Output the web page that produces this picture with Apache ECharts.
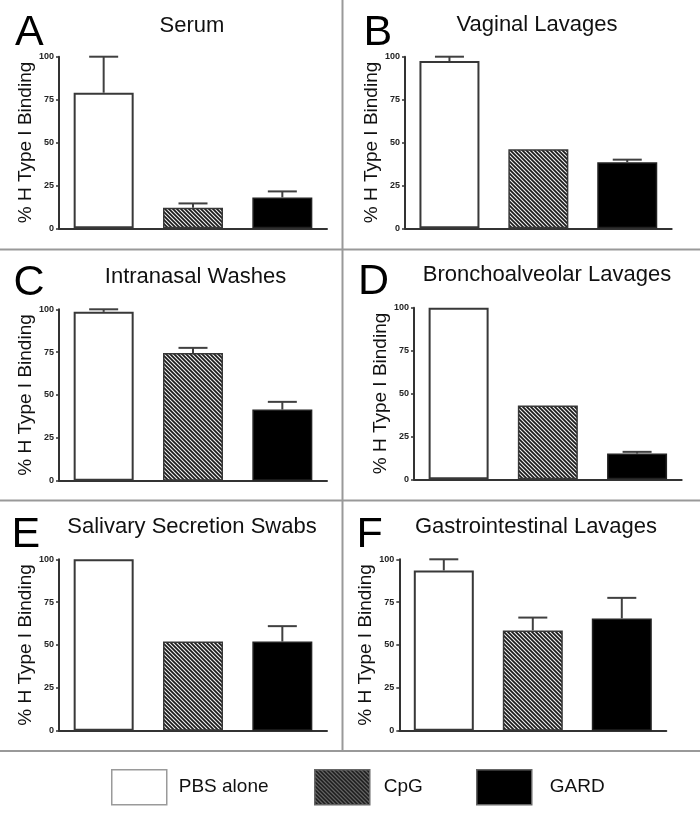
<!DOCTYPE html>
<html><head><meta charset="utf-8">
<script src="https://cdn.jsdelivr.net/npm/echarts@6/dist/echarts.min.js"></script>
<style>html,body{margin:0;padding:0;background:#fff}#c{width:700px;height:817px}</style>
</head><body><div id="c"></div>
<script>
// ---- data ----
const categories = ['PBS alone', 'CpG', 'GARD'];
const panelLetters = ['A', 'B', 'C', 'D', 'E', 'F'];
const panelTitles = ['Serum', 'Vaginal Lavages', 'Intranasal Washes', 'Bronchoalveolar Lavages', 'Salivary Secretion Swabs', 'Gastrointestinal Lavages'];
const pbsMean  = [79, 97.5, 98.5, 100, 100, 93.5];
const pbsUpper = [100, 100, 100, null, null, 100];
const cpgMean  = [12, 46, 74.5, 43, 52, 58.5];
const cpgUpper = [14.5, null, 77.5, null, null, 66];
const gardMean  = [18, 38.5, 41.5, 15, 52, 65.5];
const gardUpper = [21.5, 40, 46, 16, 61, 77.5];
const yTicks = [0, 25, 50, 75, 100];
const yAxisName = '% H Type I Binding';

// ---- layout / style ----
const FONT = '"Liberation Sans", Arial, Helvetica, sans-serif';
const grids = [
  {left: 59,    top: 56.7,  width: 268,   height: 171.6},
  {left: 405,   top: 56.7,  width: 266.7, height: 171.6},
  {left: 59,    top: 309.3, width: 268,   height: 171.4},
  {left: 414,   top: 307.7, width: 267.7, height: 171.6},
  {left: 59,    top: 559.3, width: 268,   height: 171.4},
  {left: 399.3, top: 559.3, width: 267,   height: 171.4}
];
const titlePos = [[192, 15.3], [537, 14.2], [195.5, 266.3], [547, 264.2], [192, 515.5], [536, 515.5]];
const letterPos = [[15, 33.5], [363.5, 33.5], [13.5, 283.5], [358, 282.5], [11.5, 535.5], [356.5, 535.5]];

function hatch(bg, fg, lw) {
  const s = 4, c = document.createElement('canvas');
  c.width = s; c.height = s;
  const g = c.getContext('2d');
  g.fillStyle = bg; g.fillRect(0, 0, s, s);
  g.strokeStyle = fg; g.lineWidth = lw;
  g.beginPath();
  g.moveTo(-1, -1); g.lineTo(s + 1, s + 1);
  g.moveTo(-1, s - 1); g.lineTo(1, s + 1);
  g.moveTo(s - 1, -1); g.lineTo(s + 1, 1);
  g.stroke();
  return c;
}
const barHatch = {image: hatch('#efefef', '#1a1a1a', 1.7), repeat: 'repeat'};
const legHatch = {image: hatch('#858585', '#111', 1.7), repeat: 'repeat'};

function renderErr(params, api) {
  const x = api.value(0), m = api.value(1), u = api.value(2);
  const p0 = api.coord([x, m]);
  const p1 = api.coord([x, u]);
  const half = 14.5;
  const st = {stroke: '#404040', lineWidth: 2};
  return {type: 'group', children: [
    {type: 'line', shape: {x1: p0[0], y1: p0[1], x2: p1[0], y2: p1[1]}, style: st},
    {type: 'line', shape: {x1: p1[0] - half, y1: p1[1], x2: p1[0] + half, y2: p1[1]}, style: st}
  ]};
}

const option = {
  animation: false,
  backgroundColor: '#fff',
  grid: grids.map(g => Object.assign({containLabel: false}, g)),
  title: panelTitles.map((t, i) => ({
    text: t, left: titlePos[i][0], top: titlePos[i][1], textAlign: 'center', padding: 0,
    textStyle: {fontSize: 22, fontWeight: 'normal', color: '#111', fontFamily: FONT}
  })),
  xAxis: grids.map((g, i) => ({
    type: 'category', gridIndex: i, data: categories,
    axisLine: {show: true, lineStyle: {color: '#333', width: 2}},
    axisTick: {show: false}, axisLabel: {show: false}, splitLine: {show: false}
  })),
  yAxis: grids.map((g, i) => ({
    type: 'value', gridIndex: i, min: yTicks[0], max: yTicks[yTicks.length - 1],
    interval: yTicks[1] - yTicks[0],
    name: yAxisName, nameLocation: 'middle', nameRotate: 90, nameGap: 22,
    nameTextStyle: {fontSize: 19, color: '#111', fontFamily: FONT},
    axisLine: {show: true, lineStyle: {color: '#333', width: 2}},
    axisTick: {show: true, length: 3, lineStyle: {color: '#333', width: 1.5}},
    axisLabel: {margin: 5, fontSize: 9, fontWeight: 'bold', color: '#222', fontFamily: FONT},
    splitLine: {show: false}
  })),
  legend: [
    {name: 'PBS alone', left: 111, col: '#fff', bc: '#9a9a9a', pad: 7},
    {name: 'CpG', left: 314, col: legHatch, bc: '#666', pad: 9},
    {name: 'GARD', left: 476, col: '#000', bc: '#666', pad: 13}
  ].map(l => ({
    data: [l.name], left: l.left, top: 769, padding: 0, orient: 'horizontal',
    itemWidth: 55, itemHeight: 35, icon: 'rect', selectedMode: false,
    itemStyle: {color: l.col, borderColor: l.bc, borderWidth: 1.5},
    textStyle: {fontSize: 19, color: '#111', fontFamily: FONT, padding: [0, 0, 0, l.pad]}
  })),
  graphic: [
    {type: 'line', shape: {x1: 342.5, y1: 0, x2: 342.5, y2: 751}, style: {stroke: '#999', lineWidth: 2}, silent: true},
    {type: 'line', shape: {x1: 0, y1: 249.5, x2: 700, y2: 249.5}, style: {stroke: '#999', lineWidth: 2}, silent: true},
    {type: 'line', shape: {x1: 0, y1: 500.5, x2: 700, y2: 500.5}, style: {stroke: '#999', lineWidth: 2}, silent: true},
    {type: 'line', shape: {x1: 0, y1: 751, x2: 700, y2: 751}, style: {stroke: '#999', lineWidth: 2}, silent: true}
  ].concat(panelLetters.map((L, i) => ({
    type: 'text', x: letterPos[i][0], y: letterPos[i][1], silent: true,
    style: {text: L, font: '43px ' + FONT, fill: '#000', align: 'left', verticalAlign: 'middle'}
  }))),
  series: []
};

for (let i = 0; i < 6; i++) {
  const common = {type: 'bar', xAxisIndex: i, yAxisIndex: i, barWidth: 60, barGap: '-100%'};
  option.series.push(Object.assign({}, common, {
    name: categories[0], data: [pbsMean[i], '-', '-'],
    itemStyle: {color: '#fff', borderColor: '#383838', borderWidth: 2}
  }));
  option.series.push(Object.assign({}, common, {
    name: categories[1], data: ['-', cpgMean[i], '-'],
    itemStyle: {color: barHatch, borderColor: '#383838', borderWidth: 1.5}
  }));
  option.series.push(Object.assign({}, common, {
    name: categories[2], data: ['-', '-', gardMean[i]],
    itemStyle: {color: '#000', borderColor: '#222', borderWidth: 1.5}
  }));
  const errData = [];
  [[pbsMean, pbsUpper], [cpgMean, cpgUpper], [gardMean, gardUpper]].forEach((pair, k) => {
    if (pair[1][i] != null) errData.push([k, pair[0][i], pair[1][i]]);
  });
  option.series.push({
    type: 'custom', name: 'error', xAxisIndex: i, yAxisIndex: i, z: 5,
    renderItem: renderErr, data: errData, encode: {x: 0, y: [1, 2]}
  });
}

const chart = echarts.init(document.getElementById('c'), null, {renderer: 'canvas'});
chart.setOption(option);
</script>
</body></html>
